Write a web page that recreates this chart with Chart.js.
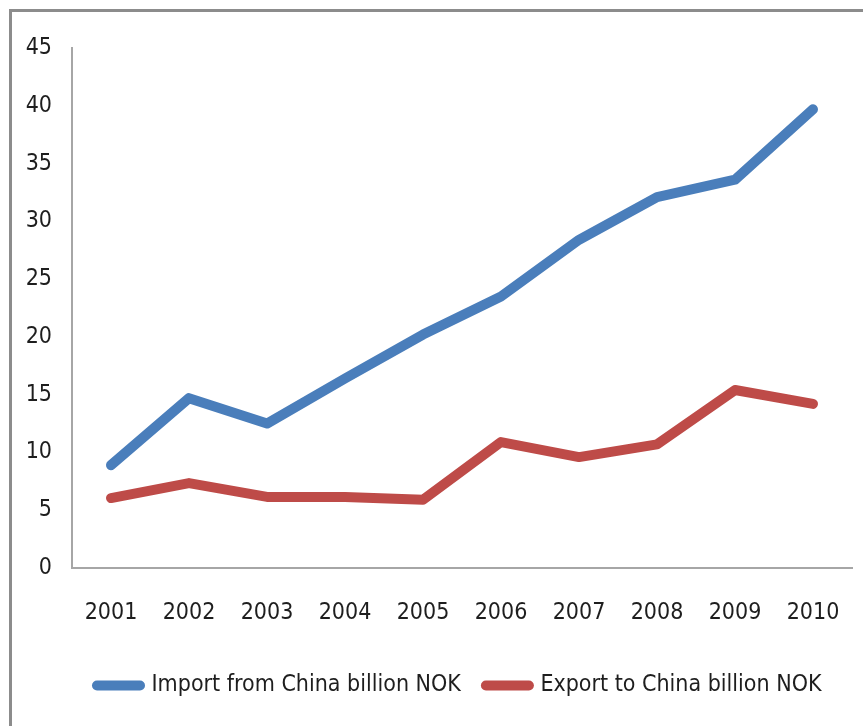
<!DOCTYPE html>
<html>
<head>
    <title>Norway - China trade</title>
    <script src="https://cdn.jsdelivr.net/npm/chart.js"></script>
    <style>
        body { margin: 0; background: #fff; overflow: hidden; }
        .frame {
            position: absolute; left: 9px; top: 9px;
            width: 851px; height: 714px;
            border-top: 3px solid #8c8c8c;
            border-left: 3px solid #8c8c8c;
        }
    </style>
</head>
<body>
<div class="frame">
    <canvas id="tradeChart" width="851" height="714"></canvas>
</div>
<script>
    // trade figures, billion NOK
    const years = ['2001', '2002', '2003', '2004', '2005', '2006', '2007', '2008', '2009', '2010'];
    const importFromChina = [8.9, 14.7, 12.5, 16.4, 20.2, 23.5, 28.4, 32.1, 33.6, 39.7];
    const exportToChina = [6.05, 7.35, 6.15, 6.15, 5.9, 10.9, 9.6, 10.7, 15.4, 14.2];
    const yTicks = [0, 5, 10, 15, 20, 25, 30, 35, 40, 45];

    const font = { family: "'Liberation Sans Narrow', 'DejaVu Sans Condensed', sans-serif", size: 23 };

    // legend row starts under the plot instead of at the canvas edge
    const legendUnderPlot = {
        id: 'legendUnderPlot',
        afterLayout(chart) {
            chart.legend.left = chart.chartArea.left;
        }
    };

    let ctx = document.getElementById('tradeChart').getContext('2d');
    new Chart(ctx, {
        type: 'line',
        data: {
            labels: years,
            datasets: [{
                label: 'Import from China billion NOK',
                data: importFromChina,
                borderColor: '#4a7ebb',
                backgroundColor: '#4a7ebb',
                borderWidth: 10,
                borderCapStyle: 'round',
                borderJoinStyle: 'round',
                pointRadius: 0,
                tension: 0
            }, {
                label: 'Export to China billion NOK',
                data: exportToChina,
                borderColor: '#be4b48',
                backgroundColor: '#be4b48',
                borderWidth: 10,
                borderCapStyle: 'round',
                borderJoinStyle: 'round',
                pointRadius: 0,
                tension: 0
            }]
        },
        options: {
            responsive: false,
            animation: false,
            layout: { padding: { left: 0, top: 36, right: 11, bottom: 19 } },
            plugins: {
                tooltip: { enabled: false },
                legend: {
                    position: 'bottom',
                    align: 'start',
                    labels: {
                        font: font,
                        color: '#1e1e1e',
                        usePointStyle: true,
                        pointStyle: 'line',
                        pointStyleWidth: 43,
                        padding: 25,
                        generateLabels: chart => Chart.defaults.plugins.legend.labels.generateLabels(chart)
                            .map(item => Object.assign(item, { lineCap: 'round' }))
                    }
                }
            },
            scales: {
                x: {
                    offset: true,
                    grid: { display: false, drawTicks: false },
                    border: { display: true, color: '#a6a6a6', width: 2 },
                    ticks: { font: font, color: '#1e1e1e', padding: 31, maxRotation: 0 },
                    afterFit: axis => {
                        axis.height = 81;
                        axis.paddingLeft = 0;
                        axis.paddingRight = 0;
                    }
                },
                y: {
                    min: 0,
                    max: 45,
                    grid: { display: false, drawTicks: false },
                    border: { display: true, color: '#a6a6a6', width: 2 },
                    afterBuildTicks: axis => { axis.ticks = yTicks.map(v => ({ value: v })); },
                    ticks: { font: font, color: '#1e1e1e', padding: 20 },
                    afterFit: axis => { axis.width = 60; }
                }
            }
        },
        plugins: [legendUnderPlot]
    });
</script>
</body>
</html>
